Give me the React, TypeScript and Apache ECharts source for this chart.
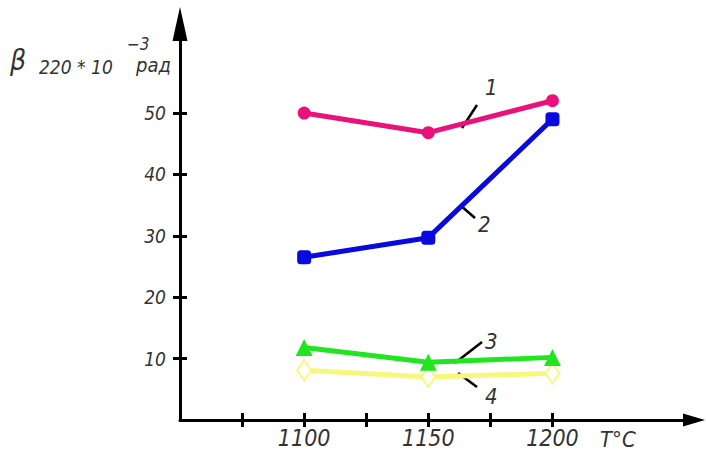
import React, { useEffect, useRef } from "react";
import * as echarts from "echarts";

const temps = [1100, 1150, 1200];
const curve1 = [50, 46.8, 52];
const curve2 = [26.5, 29.7, 49];
const curve3 = [11.8, 9.4, 10.2];
const curve4 = [8.1, 7.0, 7.6];
const yTicks = [10, 20, 30, 40, 50];
const xTicks = [1075, 1100, 1125, 1150, 1175, 1200];
const xLabels = [1100, 1150, 1200];
const curveNames = ["1", "2", "3", "4"];

const FONT = "DejaVu Sans Condensed, DejaVu Sans, sans-serif";
const INK = "#333";

const X_MIN = 1050;
const X_MAX = 1257;
const Y_MIN = 0;
const Y_MAX = 64.5;

function pairs(vals: number[]) {
  return temps.map((t, i) => [t, vals[i]]);
}

export default function App() {
  const ref = useRef<HTMLDivElement>(null);
  useEffect(() => {
    if (!ref.current) return;
    const chart = echarts.init(ref.current, null, { renderer: "svg" });
    const axisLine = { color: "#000", width: 3 };
    const txt = (text: string, left: number, top: number, size: number) => ({
      type: "text",
      left,
      top,
      style: { text, fontFamily: FONT, fontStyle: "italic", fontSize: size, fill: INK },
    });
    const lead = (x1: number, y1: number, x2: number, y2: number) => ({
      type: "line",
      shape: { x1, y1, x2, y2 },
      style: { stroke: "#000", lineWidth: 2.5 },
    });
    chart.setOption({
      animation: false,
      grid: { left: 180, right: 12, top: 24, bottom: 35 },
      xAxis: [
        {
          type: "value",
          min: X_MIN,
          max: X_MAX,
          position: "bottom",
          axisLine: { show: true, onZero: false, lineStyle: axisLine, symbol: ["none", "triangle"], symbolSize: [13, 22] },
          axisTick: { show: true, inside: false, length: 7, lineStyle: axisLine, customValues: xTicks },
          axisLabel: {
            customValues: xLabels,
            formatter: (v: number) => String(v),
            margin: 6,
            color: INK,
            fontFamily: FONT,
            fontStyle: "italic",
            fontSize: 23,
          },
          splitLine: { show: false },
        },
        {
          type: "value",
          min: X_MIN,
          max: X_MAX,
          position: "top",
          offset: -396,
          axisLine: { show: false, onZero: false },
          axisTick: { show: true, inside: false, length: 7, lineStyle: axisLine, customValues: xTicks },
          axisLabel: { show: false },
          splitLine: { show: false },
        },
      ],
      yAxis: [
        {
          type: "value",
          min: Y_MIN,
          max: Y_MAX,
          position: "left",
          axisLine: { show: true, onZero: false, lineStyle: axisLine, symbol: ["none", "triangle"], symbolSize: [15, 34] },
          axisTick: { show: true, inside: false, length: 7, lineStyle: axisLine, customValues: yTicks },
          axisLabel: {
            customValues: yTicks,
            formatter: (v: number) => String(v),
            margin: 14,
            color: INK,
            fontFamily: FONT,
            fontStyle: "italic",
            fontSize: 19,
          },
          splitLine: { show: false },
        },
        {
          type: "value",
          min: Y_MIN,
          max: Y_MAX,
          position: "right",
          offset: -514,
          axisLine: { show: false, onZero: false },
          axisTick: { show: true, inside: false, length: 7, lineStyle: axisLine, customValues: yTicks },
          axisLabel: { show: false },
          splitLine: { show: false },
        },
      ],
      series: [
        {
          name: curveNames[0],
          type: "line",
          data: pairs(curve1),
          symbol: "circle",
          symbolSize: 13,
          lineStyle: { width: 5, color: "#e8127a" },
          itemStyle: { color: "#e8127a" },
        },
        {
          name: curveNames[1],
          type: "line",
          data: pairs(curve2),
          symbol: "roundRect",
          symbolSize: 14,
          lineStyle: { width: 5, color: "#0a0ade" },
          itemStyle: { color: "#0a0ade" },
        },
        {
          name: curveNames[3],
          type: "line",
          data: pairs(curve4),
          symbol: "emptyDiamond",
          symbolSize: [14, 20],
          lineStyle: { width: 5, color: "#f7f77e" },
          itemStyle: { color: "#f7f77e", borderWidth: 3 },
        },
        {
          name: curveNames[2],
          type: "line",
          data: pairs(curve3),
          symbol: "triangle",
          symbolSize: 17,
          lineStyle: { width: 5, color: "#22e522" },
          itemStyle: { color: "#22e522" },
        },
      ],
      graphic: [
        txt("β", 10, 46, 28),
        txt("220 * 10", 39, 57, 19),
        txt("−3", 127, 35, 17),
        txt("рад", 136, 55, 20),
        txt("T°C", 600, 428, 22),
        lead(462, 128, 477, 105),
        txt(curveNames[0], 485, 76, 22),
        lead(460, 205, 475, 218),
        txt(curveNames[1], 478, 213, 22),
        lead(455, 363, 482, 342),
        txt(curveNames[2], 485, 330, 22),
        lead(458, 373, 477, 387),
        txt(curveNames[3], 485, 385, 22),
      ],
    });
    return () => chart.dispose();
  }, []);
  return (
    <div
      ref={ref}
      style={{ position: "absolute", left: 0, top: 0, width: 706, height: 455, background: "#fff" }}
    />
  );
}
